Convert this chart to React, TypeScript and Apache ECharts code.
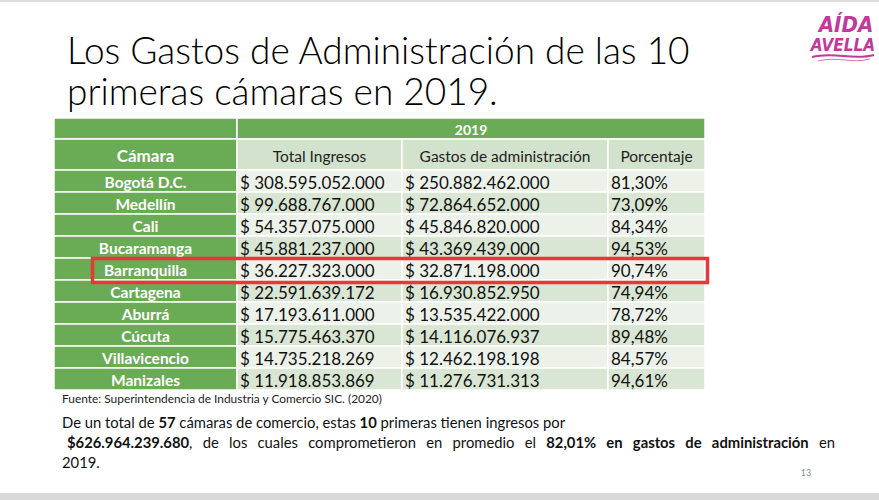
import React, { useEffect, useRef } from "react";
import * as echarts from "echarts";

// ---------- data ----------
const yearLabel = "2019";
const headers = ["Cámara", "Total Ingresos", "Gastos de administración", "Porcentaje"];
const camaras = ["Bogotá D.C.", "Medellín", "Cali", "Bucaramanga", "Barranquilla", "Cartagena", "Aburrá", "Cúcuta", "Villavicencio", "Manizales"];
const totalIngresos = ["$ 308.595.052.000", "$ 99.688.767.000", "$ 54.357.075.000", "$ 45.881.237.000", "$ 36.227.323.000", "$ 22.591.639.172", "$ 17.193.611.000", "$ 15.775.463.370", "$ 14.735.218.269", "$ 11.918.853.869"];
const gastosAdministracion = ["$ 250.882.462.000", "$ 72.864.652.000", "$ 45.846.820.000", "$ 43.369.439.000", "$ 32.871.198.000", "$ 16.930.852.950", "$ 13.535.422.000", "$ 14.116.076.937", "$ 12.462.198.198", "$ 11.276.731.313"];
const porcentaje = ["81,30%", "73,09%", "84,34%", "94,53%", "90,74%", "74,94%", "78,72%", "89,48%", "84,57%", "94,61%"];
const highlighted = "Barranquilla";

const titleLines = ["Los Gastos de Administración de las 10", "primeras cámaras en 2019."];
const sourceNote = "Fuente: Superintendencia de Industria y Comercio SIC. (2020)";
const totalCamaras = "57";
const topN = "10";
const totalSum = "$626.964.239.680";
const avgPct = "82,01%";
const closingYear = "2019.";
const pageNumber = "13";

// ---------- layout ----------
const colEdges = [0, 183, 348, 554, 651];
const rowHeights = [21, 31, ...camaras.map(() => 22)];
const rowEdges = rowHeights.reduce((acc: number[], h) => [...acc, acc[acc.length - 1] + h], [0]);
const FONT = "Lato, 'Open Sans', sans-serif";
const LOGO_FONT = "'DejaVu Sans Condensed', 'DejaVu Sans', sans-serif";

const GREEN = "#6aab55";
const HEAD_LIGHT = "#d3e2cc";
const BAND_LIGHT = "#ecf1ea";
const BAND_DARK = "#d9e6d3";
const MAGENTA = "#c1399b";

type Cell = { value: [number, number, number] };
const cells: Cell[] = [];
cells.push({ value: [0, 0, 1] });
cells.push({ value: [1, 0, 3] });
for (let c = 0; c < 4; c++) cells.push({ value: [c, 1, 1] });
camaras.forEach((_, i) => {
  for (let c = 0; c < 4; c++) cells.push({ value: [c, i + 2, 1] });
});

function cellText(col: number, row: number): string {
  if (row === 0) return col === 0 ? "" : yearLabel;
  if (row === 1) return headers[col];
  const i = row - 2;
  return [camaras[i], totalIngresos[i], gastosAdministracion[i], porcentaje[i]][col];
}

const BODY_SIZE = 14.8;
const bodyRich = {
  b: { fontWeight: "bold", fontSize: BODY_SIZE, fontFamily: FONT, fill: "#111" },
};
const line1 = `De un total de {b|${totalCamaras}} cámaras de comercio, estas {b|${topN}} primeras tienen ingresos por`;
const line2Words = [
  `{b|${totalSum}},`, "de", "los", "cuales", "comprometieron", "en", "promedio", "el",
  ...`${avgPct} en gastos de administración`.split(" ").map((w) => `{b|${w}}`),
  "en",
];

export default function App() {
  const ref = useRef<HTMLDivElement>(null);
  useEffect(() => {
    if (!ref.current) return;
    const chart = echarts.init(ref.current, null, { renderer: "svg" });

    const renderCell = (params: any, api: any) => {
      const col = api.value(0);
      const row = api.value(1);
      const span = api.value(2);
      const p0 = api.coord([colEdges[col], rowEdges[row]]);
      const p1 = api.coord([colEdges[col + span], rowEdges[row + 1]]);
      const w = p1[0] - p0[0];
      const h = p1[1] - p0[1];
      let fill = GREEN;
      let color = "#ffffff";
      let weight: any = "bold";
      let size = 15.5;
      let align = "center";
      if (row === 0) {
        size = 14;
      } else if (col > 0 && row === 1) {
        fill = HEAD_LIGHT;
        color = "#1e1e1e";
        weight = "normal";
        size = 15.5;
      } else if (col > 0 && row >= 2) {
        fill = (row - 2) % 2 === 0 ? BAND_LIGHT : BAND_DARK;
        color = "#111111";
        weight = "normal";
        size = 17;
        align = "left";
      } else if (col === 0 && row === 1) {
        size = 17;
      }
      const text = cellText(col, row);
      const tx = align === "center" ? p0[0] + w / 2 : p0[0] + 3;
      return {
        type: "group",
        children: [
          {
            type: "rect",
            shape: { x: p0[0], y: p0[1], width: w, height: h },
            style: { fill, stroke: "#ffffff", lineWidth: 1.5 },
          },
          {
            type: "text",
            x: tx,
            y: p0[1] + h / 2 + 1,
            style: {
              text,
              fill: color,
              fontSize: size,
              fontWeight: weight,
              fontFamily: FONT,
              align,
              verticalAlign: "middle",
              textAlign: align,
              textVerticalAlign: "middle",
            },
          },
        ],
      };
    };

    const hiIndex = camaras.indexOf(highlighted);

    const renderHighlight = (params: any, api: any) => {
      const row = api.value(0) + 2;
      const p0 = api.coord([colEdges[0] + 38.5, rowEdges[row] + 0.5]);
      const p1 = api.coord([colEdges[4] + 2.5, rowEdges[row + 1] + 2.5]);
      return {
        type: "rect",
        shape: { x: p0[0], y: p0[1], width: p1[0] - p0[0], height: p1[1] - p0[1] },
        style: { fill: "none", stroke: "#e8373c", lineWidth: 3.5 },
      };
    };

    // justified second paragraph line
    const measure = (t: string) =>
      new (echarts.graphic as any).Text({
        style: { text: t, rich: bodyRich, fontSize: BODY_SIZE, fontFamily: FONT },
      }).getBoundingRect().width;
    const widths = line2Words.map(measure);
    const startX = 67;
    const endX = 835;
    const totalW = widths.reduce((a: number, b: number) => a + b, 0);
    const gap = (endX - startX - totalW) / (line2Words.length - 1);
    let cursor = startX;
    const line2Els = line2Words.map((w, i) => {
      const el = {
        type: "text",
        x: cursor,
        y: 442,
        style: {
          text: w, rich: bodyRich, fontSize: BODY_SIZE, fontFamily: FONT, fill: "#111",
          verticalAlign: "middle", textVerticalAlign: "middle",
        },
      };
      cursor += widths[i] + gap;
      return el;
    });

    chart.setOption({
      animation: false,
      backgroundColor: "#ffffff",
      grid: { left: 54, top: 118, width: 651, height: 272, containLabel: false },
      xAxis: { type: "value", min: 0, max: colEdges[colEdges.length - 1], show: false },
      yAxis: { type: "value", min: 0, max: rowEdges[rowEdges.length - 1], inverse: true, show: false },
      series: [
        {
          type: "custom",
          renderItem: renderCell,
          data: cells,
          silent: true,
          clip: false,
        },
        {
          type: "custom",
          renderItem: renderHighlight,
          data: [[hiIndex]],
          encode: { x: -1, y: -1 },
          silent: true,
          clip: false,
          z: 5,
        },
      ],
      graphic: [
        { type: "rect", left: 0, top: 0, shape: { width: 879, height: 2 }, style: { fill: "#dedede" } },
        { type: "rect", left: 0, top: 493, shape: { width: 879, height: 7 }, style: { fill: "#d9d9d9" } },
        {
          type: "text", x: 67, y: 68,
          style: { text: titleLines[0], fontSize: 37, fontFamily: FONT, fontWeight: 300, fill: "#000", verticalAlign: "bottom", textVerticalAlign: "bottom" },
        },
        {
          type: "text", x: 67, y: 109,
          style: { text: titleLines[1], fontSize: 37, fontFamily: FONT, fontWeight: 300, fill: "#000", verticalAlign: "bottom", textVerticalAlign: "bottom" },
        },
        {
          type: "text", x: 62, y: 398,
          style: { text: sourceNote, fontSize: 11.9, fontFamily: FONT, fill: "#222", verticalAlign: "middle", textVerticalAlign: "middle" },
        },
        {
          type: "text", x: 62, y: 422,
          style: {
            text: line1, rich: bodyRich, fontSize: BODY_SIZE, fontFamily: FONT, fill: "#111",
            verticalAlign: "middle", textVerticalAlign: "middle",
          },
        },
        ...line2Els,
        {
          type: "text", x: 62, y: 462,
          style: { text: closingYear, fontSize: BODY_SIZE, fontFamily: FONT, fill: "#111", verticalAlign: "middle", textVerticalAlign: "middle" },
        },
        {
          type: "text", x: 806, y: 472,
          style: { text: pageNumber, fontSize: 9, fontFamily: FONT, fill: "#8a8a8a", align: "center", textAlign: "center", verticalAlign: "middle", textVerticalAlign: "middle" },
        },
        {
          type: "text", x: 846, y: 24,
          style: { text: "AÍDA", fontSize: 22, fontFamily: LOGO_FONT, fontWeight: "bold", fontStyle: "italic", fill: MAGENTA, align: "center", textAlign: "center", verticalAlign: "middle", textVerticalAlign: "middle" },
        },
        {
          type: "text", x: 843, y: 45,
          style: { text: "AVELLA", fontSize: 17, fontFamily: LOGO_FONT, fontWeight: "bold", fontStyle: "italic", fill: MAGENTA, align: "center", textAlign: "center", verticalAlign: "middle", textVerticalAlign: "middle" },
        },
        {
          type: "bezierCurve",
          shape: { x1: 812, y1: 57, x2: 874, y2: 55, cpx1: 835, cpy1: 51, cpx2: 852, cpy2: 61 },
          style: { stroke: MAGENTA, lineWidth: 2, fill: "none" },
        },
        {
          type: "bezierCurve",
          shape: { x1: 818, y1: 61, x2: 870, y2: 59, cpx1: 838, cpy1: 56, cpx2: 852, cpy2: 64 },
          style: { stroke: MAGENTA, lineWidth: 1, fill: "none", opacity: 0.7 },
        },
      ],
    });
    return () => chart.dispose();
  }, []);
  return (
    <div
      ref={ref}
      style={{ position: "absolute", left: 0, top: 0, width: 879, height: 500, background: "#fff" }}
    />
  );
}
